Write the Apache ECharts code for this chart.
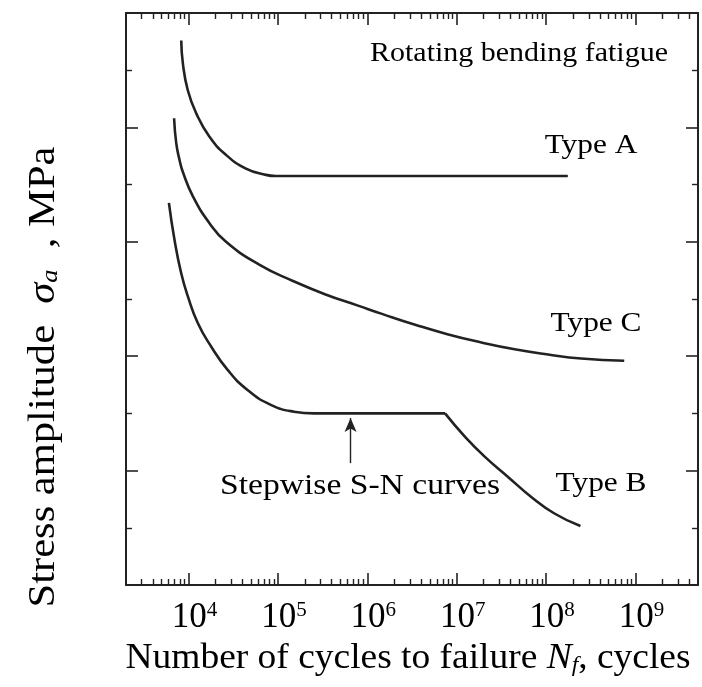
<!DOCTYPE html>
<html>
<head>
<meta charset="utf-8">
<script src="https://cdn.jsdelivr.net/npm/echarts@6/dist/echarts.min.js"></script>
<style>
  html,body{margin:0;padding:0;background:#fff}
  #main{width:702px;height:687px}
</style>
</head>
<body>
<div id="main"></div>
<script>
// S-N curves, log N on x, stress amplitude (no scale) on y
const typeA_N = [8300, 8650, 9820, 12180, 17100, 26300, 43900, 73300, 94800, 1.75e8]
const typeA_S = [9.52, 9.12, 8.65, 8.25, 7.84, 7.52, 7.28, 7.17, 7.15, 7.15]

const typeC_N = [6900, 7300, 7940, 8650, 11170, 17100, 26300, 61800, 1.45e5, 3.41e5, 8.02e5, 1.46e6, 3.43e6, 8.06e6, 1.89e7, 4.45e7, 1.05e8, 2.46e8, 7.48e8]
const typeC_S = [8.16, 7.72, 7.43, 7.22, 6.80, 6.33, 6.00, 5.60, 5.32, 5.08, 4.88, 4.74, 4.55, 4.38, 4.24, 4.12, 4.03, 3.96, 3.92]

const typeB_N = [6040, 6980, 8290, 9820, 12700, 17900, 27400, 45700, 83300, 1.51e5, 2.53e5, 7.41e6]
const typeB_S = [6.68, 6.03, 5.45, 5.05, 4.58, 4.17, 3.76, 3.41, 3.15, 3.03, 3.00, 3.00]
const typeB2_N = [7.41e6, 1.24e7, 2.07e7, 3.75e7, 6.82e7, 1.24e8, 2.42e8]
const typeB2_S = [3.00, 2.59, 2.24, 1.89, 1.54, 1.25, 1.03]

// arrow pointing at the step
const arrowN = 6.5e5
const arrowS = [2.13, 2.92]

const xRange = [2000, 5e9]
const yRange = [0, 10]
const tickDecades = [3, 4, 5, 6, 7, 8, 9]
const tickMults = [2, 3, 4, 5, 6, 7, 8, 9]
const labels = ['Rotating bending fatigue', 'Type A', 'Type C', 'Type B', 'Stepwise S-N curves']

const FONT = '"Liberation Serif", "Times New Roman", serif'
const INK = '#222'

// minor ticks of the log axis: 2..9 x 10^k inside the range
let minorTicks = []
tickDecades.forEach(d => tickMults.forEach(m => {
  let v = m * Math.pow(10, d)
  if (v > xRange[0] && v < xRange[1]) minorTicks.push(v)
}))

let chart = echarts.init(document.getElementById('main'))

const zip = (a, b) => a.map((v, i) => [v, b[i]])
const lineSeries = (data) => ({
  type: 'line', data: data, smooth: 0.5, symbol: 'none',
  lineStyle: {color: INK, width: 2.6}, z: 3
})

function xLabel(value) {
  let e = Math.log10(value)
  if (Math.abs(e - Math.round(e)) > 1e-6) return ''
  return '{b|10}{s|' + Math.round(e) + '}'
}

let xBase = {
  type: 'log', logBase: 10, min: xRange[0], max: xRange[1],
  axisLine: {show: true, onZero: false, lineStyle: {color: INK, width: 2}},
  axisTick: {show: true, inside: true, length: 12, lineStyle: {color: INK, width: 1.6}},
  axisLabel: {show: false},
  splitLine: {show: false}
}
let xMinor = Object.assign({}, xBase, {
  axisLine: {show: false, onZero: false},
  axisTick: {show: true, inside: true, length: 6, customValues: minorTicks, lineStyle: {color: INK, width: 1.4}}
})
let yBase = {
  type: 'value', min: yRange[0], max: yRange[1], interval: 2,
  axisLine: {show: true, onZero: false, lineStyle: {color: INK, width: 2}},
  axisTick: {show: true, inside: true, length: 12, lineStyle: {color: INK, width: 1.6}},
  minorTick: {show: true, splitNumber: 2, length: 6, lineStyle: {color: INK, width: 1.4}},
  axisLabel: {show: false},
  splitLine: {show: false}
}

let option = {
  backgroundColor: '#fff',
  animation: false,
  grid: {left: 126, right: 4, top: 13, bottom: 102},
  xAxis: [
    Object.assign({}, xBase, {
      position: 'bottom',
      axisLabel: {
        show: true, margin: 15, formatter: xLabel, padding: [0, 0, 0, 12],
        rich: {
          b: {fontFamily: FONT, fontSize: 35, color: '#000'},
          s: {fontFamily: FONT, fontSize: 21, color: '#000', verticalAlign: 'top'}
        }
      }
    }),
    Object.assign({}, xBase, {position: 'top'}),
    Object.assign({}, xMinor, {position: 'bottom'}),
    Object.assign({}, xMinor, {position: 'top'})
  ],
  yAxis: [
    Object.assign({}, yBase, {position: 'left'}),
    Object.assign({}, yBase, {position: 'right'})
  ],
  series: [
    lineSeries(zip(typeA_N, typeA_S)),
    lineSeries(zip(typeC_N, typeC_S)),
    lineSeries(zip(typeB_N, typeB_S)),
    Object.assign(lineSeries(zip(typeB2_N, typeB2_S)), {
      markLine: {
        silent: true, symbol: ['none', 'arrow'], symbolSize: [9, 14],
        label: {show: false},
        lineStyle: {color: INK, width: 1.4, type: 'solid'},
        data: [[{coord: [arrowN, arrowS[0]]}, {coord: [arrowN, arrowS[1]]}]]
      }
    })
  ],
  graphic: [
    {type: 'text', x: 519, y: 54, scaleX: 1.07, style: {text: labels[0], font: '28px ' + FONT, fill: '#000', align: 'center', verticalAlign: 'middle'}},
    {type: 'text', x: 591, y: 146, scaleX: 1.12, style: {text: labels[1], font: '28px ' + FONT, fill: '#000', align: 'center', verticalAlign: 'middle'}},
    {type: 'text', x: 596, y: 324, scaleX: 1.12, style: {text: labels[2], font: '28px ' + FONT, fill: '#000', align: 'center', verticalAlign: 'middle'}},
    {type: 'text', x: 601, y: 484, scaleX: 1.12, style: {text: labels[3], font: '28px ' + FONT, fill: '#000', align: 'center', verticalAlign: 'middle'}},
    {type: 'text', x: 360, y: 486, scaleX: 1.12, style: {text: labels[4], font: '30px ' + FONT, fill: '#000', align: 'center', verticalAlign: 'middle'}},
    {
      type: 'text', x: 408, y: 659, scaleX: 1.07,
      style: {
        text: '{t|Number of cycles to failure }{i|N}{sub|f}{t|, cycles}',
        align: 'center', verticalAlign: 'middle',
        rich: {
          t: {fontFamily: FONT, fontSize: 35, fill: '#000'},
          i: {fontFamily: FONT, fontSize: 35, fontStyle: 'italic', fill: '#000'},
          sub: {fontFamily: FONT, fontSize: 22, fontStyle: 'italic', fill: '#000', verticalAlign: 'bottom'}
        }
      }
    },
    {
      type: 'text', x: 44, y: 377, rotation: Math.PI / 2, scaleX: 1.15,
      style: {
        text: '{t|Stress amplitude  }{i|σ}{sub|a}{t|  , MPa}',
        align: 'center', verticalAlign: 'middle',
        rich: {
          t: {fontFamily: FONT, fontSize: 37, fill: '#000'},
          i: {fontFamily: FONT, fontSize: 37, fontStyle: 'italic', fill: '#000'},
          sub: {fontFamily: FONT, fontSize: 23, fontStyle: 'italic', fill: '#000', verticalAlign: 'bottom'}
        }
      }
    }
  ]
}

chart.setOption(option)
window.addEventListener('resize', function () { chart.resize() })
</script>
</body>
</html>
